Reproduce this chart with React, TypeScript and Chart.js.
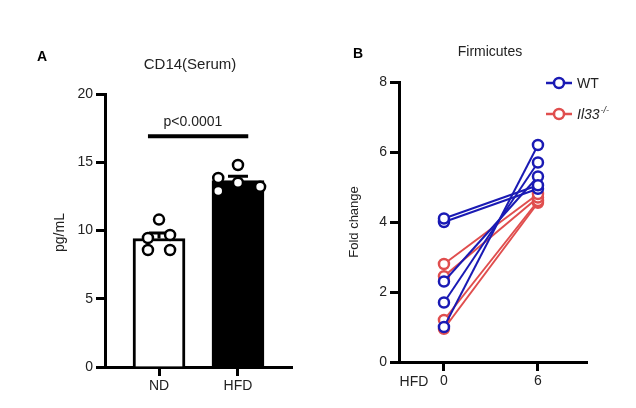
import React, { useEffect, useRef } from "react";
import { Chart, registerables } from "chart.js";
Chart.register(...registerables);

const FONT = "'Liberation Sans', Arial, Helvetica, sans-serif";
const INK = "#222222";
const BLUE = "#1a1ab4";
const RED = "#e04e4e";

// ---------- Panel A data ----------
const panelATitle = "CD14(Serum)";
const panelAYLabel = "pg/mL";
const groupLabels = ["ND", "HFD"];
const ndValues = [10.8, 9.45, 9.67, 8.57, 8.57];
const hfdValues = [14.8, 13.85, 13.5, 13.2, 12.9];
const yTicksA = [0, 5, 10, 15, 20];
const pValueText = "p<0.0001";
const sigBarValue = 16.9;

// ---------- Panel B data ----------
const panelBTitle = "Firmicutes";
const panelBYLabel = "Fold change";
const timeTicks = [0, 6];
const timeAxisLabel = "HFD";
const yTicksB = [0, 2, 4, 6, 8];
const wtDay0 = [4.1, 4.0, 1.0, 1.7, 2.3];
const wtDay6 = [5.05, 4.95, 6.2, 5.7, 5.3];
const il33Day0 = [2.8, 2.45, 1.2, 0.95];
const il33Day6 = [4.8, 4.7, 4.6, 4.55];
const legendWT = "WT";
const legendKO = "Il33";
const legendKOSup = "-/-";

// jitter of individual points (category units)
const jitterND = [0, -0.14, 0.14, -0.14, 0.14];
const jitterHFD = [0, -0.25, 0, 0.28, -0.25];

const mean = (a: number[]) => a.reduce((s, v) => s + v, 0) / a.length;
const sem = (a: number[]) => {
  const m = mean(a);
  const v = a.reduce((s, x) => s + (x - m) * (x - m), 0) / (a.length - 1);
  return Math.sqrt(v) / Math.sqrt(a.length);
};

const groups = [ndValues, hfdValues];

const axisCommon = () => ({
  offset: false,
  border: { display: true, color: "#000", width: 3 },
  grid: {
    display: true,
    offset: false,
    drawOnChartArea: false,
    drawTicks: true,
    tickLength: 9,
    tickWidth: 3,
    tickColor: "#000",
  },
});

function buildA(canvas: HTMLCanvasElement) {
  const barData = groups.map((g, i) => ({ x: i, y: mean(g) }));
  const pts: { x: number; y: number }[] = [];
  ndValues.forEach((v, i) => pts.push({ x: 0 + jitterND[i], y: v }));
  hfdValues.forEach((v, i) => pts.push({ x: 1 + jitterHFD[i], y: v }));

  const plugin = {
    id: "panelA",
    afterDatasetDraw(chart: any, args: any) {
      if (args.index !== 0) return;
      const { ctx } = chart;
      const xs = chart.scales.x;
      const ys = chart.scales.y;
      ctx.save();
      ctx.strokeStyle = "#000";
      ctx.lineWidth = 3;
      groups.forEach((g, i) => {
        const m = mean(g);
        const s = sem(g);
        const x = xs.getPixelForValue(i);
        const y0 = ys.getPixelForValue(m);
        const y1 = ys.getPixelForValue(m + s);
        ctx.beginPath();
        ctx.moveTo(x, y0);
        ctx.lineTo(x, y1);
        ctx.moveTo(x - 10, y1);
        ctx.lineTo(x + 10, y1);
        ctx.stroke();
      });
      ctx.restore();
    },
    afterDraw(chart: any) {
      const { ctx, chartArea } = chart;
      const xs = chart.scales.x;
      const ys = chart.scales.y;
      ctx.save();
      // significance bar
      const yb = ys.getPixelForValue(sigBarValue);
      ctx.strokeStyle = "#000";
      ctx.lineWidth = 4;
      ctx.beginPath();
      ctx.moveTo(xs.getPixelForValue(-0.14), yb);
      ctx.lineTo(xs.getPixelForValue(1.13), yb);
      ctx.stroke();
      ctx.fillStyle = INK;
      ctx.font = `14px ${FONT}`;
      ctx.textAlign = "center";
      ctx.textBaseline = "middle";
      ctx.fillText(pValueText, xs.getPixelForValue(0.43), yb - 14);
      // title
      ctx.font = `15px ${FONT}`;
      ctx.fillText(panelATitle, 190, 65);
      // letter
      ctx.font = `bold 14px ${FONT}`;
      ctx.fillStyle = "#000";
      ctx.fillText("A", 42, 57);
      // y title
      ctx.fillStyle = INK;
      ctx.font = `14px ${FONT}`;
      ctx.translate(chartArea.left - 45, (chartArea.top + chartArea.bottom) / 2 + 2);
      ctx.rotate(-Math.PI / 2);
      ctx.fillText(panelAYLabel, 0, 0);
      ctx.restore();
    },
  };

  return new Chart(canvas, {
    type: "bar",
    data: {
      datasets: [
        {
          type: "bar",
          data: barData,
          backgroundColor: ["#ffffff", "#000000"],
          borderColor: "#000",
          borderWidth: 3,
          barThickness: 52,
          order: 2,
        } as any,
        {
          type: "scatter",
          data: pts,
          pointRadius: 5,
          pointBorderWidth: 2.5,
          pointBackgroundColor: "#ffffff",
          pointBorderColor: "#000",
          order: 1,
        } as any,
      ],
    },
    options: {
      responsive: false,
      animation: false,
      events: [],
      layout: { padding: { left: 0, top: 94, right: 26, bottom: 0 } },
      plugins: { legend: { display: false }, tooltip: { enabled: false } },
      scales: {
        x: {
          type: "linear",
          min: -0.684,
          max: 1.684,
          ...axisCommon(),
          afterBuildTicks: (s: any) => {
            s.ticks = groupLabels.map((_, i) => ({ value: i }));
          },
          afterFit: (s: any) => {
            s.height = 41;
          },
          ticks: {
            color: INK,
            font: { family: FONT, size: 14 },
            padding: 2,
            maxRotation: 0,
            callback: (v: any) => groupLabels[v] ?? "",
          },
        },
        y: {
          type: "linear",
          min: 0,
          max: 20,
          ...axisCommon(),
          afterBuildTicks: (s: any) => {
            s.ticks = yTicksA.map((v) => ({ value: v }));
          },
          afterFit: (s: any) => {
            s.width = 105;
          },
          ticks: {
            color: INK,
            font: { family: FONT, size: 14 },
            padding: 3,
          },
        },
      } as any,
    },
    plugins: [plugin],
  });
}

function buildB(canvas: HTMLCanvasElement) {
  const mk = (d0: number[], d6: number[], color: string) =>
    d0.map((v, i) => ({
      type: "line",
      data: [
        { x: timeTicks[0], y: v },
        { x: timeTicks[1], y: d6[i] },
      ],
      borderColor: color,
      borderWidth: 2,
      pointRadius: 5,
      pointBorderWidth: 2.5,
      pointBackgroundColor: "#ffffff",
      pointBorderColor: color,
      fill: false,
      tension: 0,
    }));

  const plugin = {
    id: "panelB",
    afterDraw(chart: any) {
      const { ctx, chartArea } = chart;
      ctx.save();
      ctx.fillStyle = INK;
      ctx.textBaseline = "middle";
      ctx.textAlign = "center";
      ctx.font = `14px ${FONT}`;
      ctx.fillText(panelBTitle, 490 - 318, 52);
      ctx.font = `bold 14px ${FONT}`;
      ctx.fillStyle = "#000";
      ctx.fillText("B", 358 - 318, 54);
      // x axis label
      ctx.fillStyle = INK;
      ctx.font = `14px ${FONT}`;
      ctx.fillText(timeAxisLabel, 414 - 318, 382);
      // legend
      const items = [
        { color: BLUE, y: 83, text: legendWT, sup: "" },
        { color: RED, y: 114, text: legendKO, sup: legendKOSup },
      ];
      items.forEach((it) => {
        ctx.strokeStyle = it.color;
        ctx.lineWidth = 2.5;
        ctx.beginPath();
        ctx.moveTo(546 - 318, it.y);
        ctx.lineTo(572 - 318, it.y);
        ctx.stroke();
        ctx.beginPath();
        ctx.fillStyle = "#fff";
        ctx.arc(559 - 318, it.y, 5, 0, Math.PI * 2);
        ctx.fill();
        ctx.stroke();
        ctx.fillStyle = INK;
        ctx.textAlign = "left";
        ctx.font = it.sup ? `italic 14px ${FONT}` : `14px ${FONT}`;
        ctx.fillText(it.text, 577 - 318, it.y + 1);
        if (it.sup) {
          const w = ctx.measureText(it.text).width;
          ctx.font = `italic 9px ${FONT}`;
          ctx.fillText(it.sup, 577 - 318 + w + 1, it.y - 4);
        }
      });
      // y title
      ctx.fillStyle = INK;
      ctx.textAlign = "center";
      ctx.font = `13px ${FONT}`;
      ctx.translate(chartArea.left - 45, 222);
      ctx.rotate(-Math.PI / 2);
      ctx.fillText(panelBYLabel, 0, 0);
      ctx.restore();
    },
  };

  return new Chart(canvas, {
    type: "line",
    data: {
      datasets: [...mk(wtDay0, wtDay6, BLUE), ...mk(il33Day0, il33Day6, RED)] as any,
    },
    options: {
      responsive: false,
      animation: false,
      events: [],
      layout: { padding: { left: 0, top: 82, right: 49, bottom: 0 } },
      plugins: { legend: { display: false }, tooltip: { enabled: false } },
      scales: {
        x: {
          type: "linear",
          min: -2.87,
          max: 9.13,
          ...axisCommon(),
          afterBuildTicks: (s: any) => {
            s.ticks = timeTicks.map((v) => ({ value: v }));
          },
          afterFit: (s: any) => {
            s.height = 46;
          },
          ticks: {
            color: INK,
            font: { family: FONT, size: 14 },
            padding: 2,
            maxRotation: 0,
          },
        },
        y: {
          type: "linear",
          min: 0,
          max: 8,
          ...axisCommon(),
          afterBuildTicks: (s: any) => {
            s.ticks = yTicksB.map((v) => ({ value: v }));
          },
          afterFit: (s: any) => {
            s.width = 81;
          },
          ticks: {
            color: INK,
            font: { family: FONT, size: 14 },
            padding: 3,
          },
        },
      } as any,
    },
    plugins: [plugin],
  });
}

export default function App() {
  const refA = useRef<HTMLCanvasElement>(null);
  const refB = useRef<HTMLCanvasElement>(null);
  useEffect(() => {
    const a = buildA(refA.current!);
    const b = buildB(refB.current!);
    return () => {
      a.destroy();
      b.destroy();
    };
  }, []);
  return (
    <div
      style={{
        position: "absolute",
        left: 0,
        top: 0,
        width: 636,
        height: 408,
        background: "#fff",
      }}
    >
      <canvas
        ref={refA}
        width={318}
        height={408}
        style={{ position: "absolute", left: 0, top: 0, width: 318, height: 408 }}
      />
      <canvas
        ref={refB}
        width={318}
        height={408}
        style={{ position: "absolute", left: 318, top: 0, width: 318, height: 408 }}
      />
    </div>
  );
}
